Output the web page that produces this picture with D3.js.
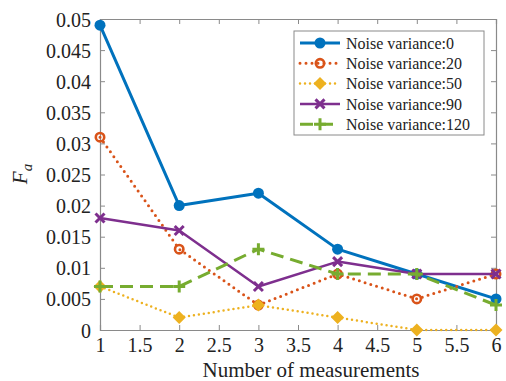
<!DOCTYPE html>
<html><head><meta charset="utf-8">
<script src="https://cdn.jsdelivr.net/npm/d3@7"></script>
<style>body{margin:0;background:#fff;}svg{display:block;}
svg text{font-family:"Liberation Serif","Times New Roman",Times,"DejaVu Serif",serif !important;fill:#222;}</style>
</head><body>
<svg id="c" width="506" height="381"></svg>
<script>
const xValues = [1, 2, 3, 4, 5, 6];
const noise0   = [0.049, 0.020, 0.022, 0.013, 0.009, 0.005];
const noise20  = [0.031, 0.013, 0.004, 0.009, 0.005, 0.009];
const noise50  = [0.007, 0.002, 0.004, 0.002, 0.000, 0.000];
const noise90  = [0.018, 0.016, 0.007, 0.011, 0.009, 0.009];
const noise120 = [0.007, 0.007, 0.013, 0.009, 0.009, 0.004];
const seriesNames = ["Noise variance:0","Noise variance:20","Noise variance:50","Noise variance:90","Noise variance:120"];
const xTicks = [1,1.5,2,2.5,3,3.5,4,4.5,5,5.5,6];
const yTicks = [0,0.005,0.01,0.015,0.02,0.025,0.03,0.035,0.04,0.045,0.05];

const series = [
  {name: seriesNames[0], vals: noise0,   color:"#0072BD", dash:null,   cap:"butt",  w:3,   marker:"circle"},
  {name: seriesNames[1], vals: noise20,  color:"#D95319", dash:"0 6",  cap:"round", w:3,   marker:"ocircle"},
  {name: seriesNames[2], vals: noise50,  color:"#EDB120", dash:"0 5",  cap:"round", w:2.5, marker:"diamond"},
  {name: seriesNames[3], vals: noise90,  color:"#7E2F8E", dash:null,   cap:"butt",  w:2.5, marker:"x"},
  {name: seriesNames[4], vals: noise120, color:"#77AC30", dash:"13 7", cap:"butt",  w:3,   marker:"plus"}
];

const L=100, R=496, T=19, B=330;
const x = d3.scaleLinear().domain([1,6]).range([L,R]);
const y = d3.scaleLinear().domain([0,0.05]).range([B,T]);
const svg = d3.select("#c");
const axisColor = "#8a8a8a";

const fmt = d => d===0 ? "0" : String(+d.toFixed(3));
const gx = svg.append("g").attr("transform",`translate(0,${B})`)
  .call(d3.axisBottom(x).tickValues(xTicks).tickSize(-5).tickPadding(8).tickFormat(d=>String(d)));
const gxt = svg.append("g").attr("transform",`translate(0,${T})`)
  .call(d3.axisTop(x).tickValues(xTicks).tickSize(-5).tickFormat(""));
const gy = svg.append("g").attr("transform",`translate(${L},0)`)
  .call(d3.axisLeft(y).tickValues(yTicks).tickSize(-5).tickPadding(9).tickFormat(fmt));
const gyr = svg.append("g").attr("transform",`translate(${R},0)`)
  .call(d3.axisRight(y).tickValues(yTicks).tickSize(-5).tickFormat(""));
[gx,gxt,gy,gyr].forEach(g=>{
  g.attr("font-family",null);
  g.select(".domain").attr("stroke",axisColor).attr("stroke-width",1.2);
  g.selectAll(".tick line").attr("stroke",axisColor);
  g.selectAll(".tick text").attr("font-size",20).attr("fill","#222");
});
gx.selectAll(".tick text").attr("dy","0.71em");
gy.selectAll(".tick text").attr("dy","0.35em");

svg.append("text").attr("x",311).attr("y",377).attr("text-anchor","middle")
  .attr("font-size",21).text("Number of measurements");
const yl = svg.append("text").attr("transform","translate(27,174) rotate(-90)")
  .attr("text-anchor","middle").attr("font-size",21);
yl.append("tspan").attr("font-style","italic").text("F");
yl.append("tspan").attr("font-style","italic").attr("font-size",15).attr("dy",5).text("a");

function drawMarker(g, type, color, cx, cy){
  if(type==="circle"){
    g.append("circle").attr("cx",cx).attr("cy",cy).attr("r",5.5).attr("fill",color);
  } else if(type==="ocircle"){
    g.append("circle").attr("cx",cx).attr("cy",cy).attr("r",4.2).attr("fill","none").attr("stroke",color).attr("stroke-width",2.6);
  } else if(type==="diamond"){
    const s=6.5;
    g.append("path").attr("d",`M${cx},${cy-s}L${cx+s},${cy}L${cx},${cy+s}L${cx-s},${cy}Z`).attr("fill",color);
  } else if(type==="x"){
    const s=4.5;
    g.append("path").attr("d",`M${cx-s},${cy-s}L${cx+s},${cy+s}M${cx-s},${cy+s}L${cx+s},${cy-s}`).attr("stroke",color).attr("stroke-width",3);
  } else if(type==="plus"){
    const s=6;
    g.append("path").attr("d",`M${cx-s},${cy}L${cx+s},${cy}M${cx},${cy-s}L${cx},${cy+s}`).attr("stroke",color).attr("stroke-width",3);
  }
}

const line = d3.line().x(d=>x(d[0])).y(d=>y(d[1]));
series.forEach(s=>{
  const pts = xValues.map((xv,i)=>[xv,s.vals[i]]);
  const g = svg.append("g");
  g.append("path").attr("d",line(pts)).attr("fill","none").attr("stroke",s.color)
    .attr("stroke-width",s.w).attr("stroke-linecap",s.cap).attr("stroke-linejoin","round")
    .attr("stroke-dasharray",s.dash);
  pts.forEach(p=>drawMarker(g,s.marker,s.color,x(p[0]),y(p[1])));
});

const lg = svg.append("g");
lg.append("rect").attr("x",294).attr("y",31).attr("width",190).attr("height",104)
  .attr("fill","#fff").attr("stroke",axisColor).attr("stroke-width",1);
series.forEach((s,i)=>{
  const cy = 43 + i*20.3;
  lg.append("line").attr("x1",300).attr("x2",340).attr("y1",cy).attr("y2",cy)
    .attr("stroke",s.color).attr("stroke-width",s.w).attr("stroke-linecap",s.cap)
    .attr("stroke-dasharray",s.dash);
  drawMarker(lg,s.marker,s.color,320,cy);
  lg.append("text").attr("x",346).attr("y",cy).attr("dy","0.35em").attr("font-size",16).text(s.name);
});
</script>
</body></html>
